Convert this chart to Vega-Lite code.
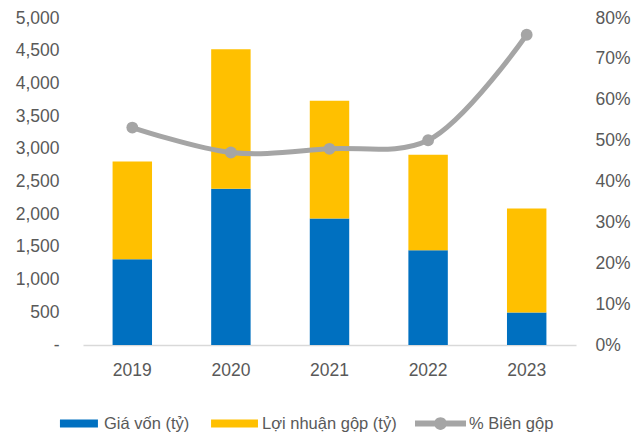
{
  "$schema": "https://vega.github.io/schema/vega-lite/v6.json",
  "autosize": "none",
  "width": 493,
  "height": 327,
  "padding": {"left": 83, "top": 18, "right": 63, "bottom": 87},
  "background": "white",
  "config": {
    "view": {"stroke": null},
    "font": "Liberation Sans",
    "axis": {"labelFont": "Liberation Sans", "labelFontSize": 17.5, "labelColor": "#595959", "grid": false, "ticks": false, "tickSize": 0, "title": null},
    "legend": {"labelFont": "Liberation Sans", "labelFontSize": 16.5, "labelColor": "#595959"}
  },
  "data": {
    "values": [
      {"year": "2019", "cost": 1312, "profit": 1494, "margin": 0.532},
      {"year": "2020", "cost": 2388, "profit": 2135, "margin": 0.471},
      {"year": "2021", "cost": 1934, "profit": 1800, "margin": 0.480},
      {"year": "2022", "cost": 1450, "profit": 1458, "margin": 0.501},
      {"year": "2023", "cost": 497, "profit": 1590, "margin": 0.759}
    ]
  },
  "encoding": {
    "x": {
      "field": "year", "type": "nominal",
      "scale": {"paddingInner": 0.6, "paddingOuter": 0.3},
      "axis": {"labelAngle": 0, "domainColor": "#D9D9D9", "domainWidth": 1.5, "labelPadding": 16}
    }
  },
  "layer": [
    {
      "transform": [{"fold": ["cost", "profit"], "as": ["series", "value"]}],
      "mark": {"type": "bar"},
      "encoding": {
        "y": {
          "field": "value", "type": "quantitative", "stack": "zero",
          "scale": {"domain": [0, 5000]},
          "axis": {"values": [0, 500, 1000, 1500, 2000, 2500, 3000, 3500, 4000, 4500, 5000], "domain": false, "labelPadding": 24, "labelExpr": "datum.value === 0 ? '-' : format(datum.value, ',')"}
        },
        "color": {
          "field": "series", "type": "nominal",
          "scale": {"domain": ["cost", "profit", "margin"], "range": ["#0070C0", "#FFC000", "#A5A5A5"]},
          "legend": {
            "orient": "none", "legendX": -33, "legendY": 380,
            "direction": "horizontal", "title": null,
            "symbolSize": 2601, "columnPadding": 18, "labelOffset": 3,
            "symbolType": "square", "symbolFillColor": "#A5A5A5", "symbolStrokeWidth": 0,
            "labelExpr": "datum.value === 'cost' ? 'Giá vốn (tỷ)' : datum.value === 'profit' ? 'Lợi nhuận gộp (tỷ)' : '% Biên gộp'",
            "encode": {
              "symbols": {
                "update": {
                  "shape": {"signal": "datum.value === 'margin' ? 'M-1,-0.12H1V0.12H-1Z M0.25,0 A0.25,0.25 0 1,1 -0.25,0 A0.25,0.25 0 1,1 0.25,0Z' : datum.value === 'cost' ? 'M-0.61,-0.16H0.88V0.16H-0.61Z' : 'M-0.88,-0.16H0.96V0.16H-0.88Z'"},
                  "fill": {"signal": "scale('color', datum.value)"},
                  "fillOpacity": {"value": 1},
                  "stroke": {"value": "transparent"},
                  "strokeWidth": {"value": 0},
                  "opacity": {"value": 1}
                }
              }
            }
          }
        },
        "order": {"field": "series", "sort": "ascending"}
      }
    },
    {
      "mark": {"type": "line", "interpolate": "catmull-rom", "strokeWidth": 5, "point": {"filled": true, "size": 140}},
      "encoding": {
        "y": {
          "field": "margin", "type": "quantitative",
          "scale": {"domain": [0, 0.8]},
          "axis": {"orient": "right", "format": ".0%", "values": [0, 0.1, 0.2, 0.3, 0.4, 0.5, 0.6, 0.7, 0.8], "domain": false, "labelPadding": 19}
        },
        "color": {"datum": "margin"}
      }
    }
  ],
  "resolve": {"scale": {"y": "independent"}}
}
